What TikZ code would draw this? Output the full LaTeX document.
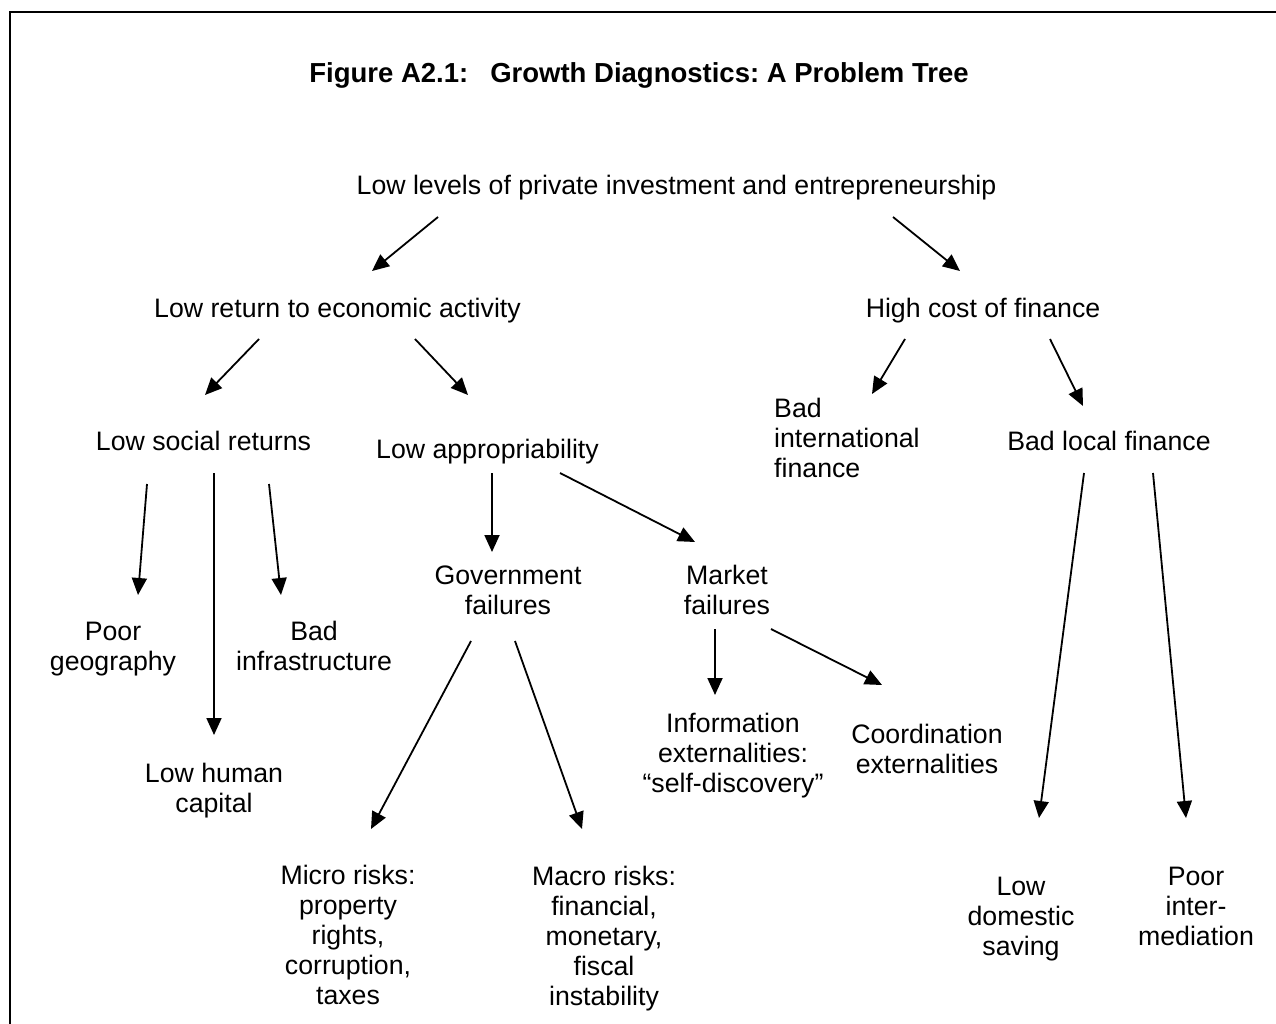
\documentclass[tikz,border=0pt]{standalone}
\usepackage{fontspec}
\setmainfont{Liberation Sans}
\usetikzlibrary{arrows.meta}
\frenchspacing
\begin{document}
\begin{tikzpicture}[x=1pt,y=-1pt,
  lbl/.style={font=\fontsize{26.7}{30}\selectfont, align=center, inner sep=0pt, anchor=base},
  arr/.style={line width=1.8pt, -{Triangle[length=17pt,width=15pt]}}]
\useasboundingbox (0,0) rectangle (1276,1024);
\draw[line width=2.5pt] (10,1026) -- (10,12) -- (1278,12);

\node[lbl, font=\bfseries\fontsize{27.5}{30}\selectfont] (title) at (639,83) {Figure A2.1:\hspace{0.8em}Growth Diagnostics: A Problem Tree};

% single-line nodes: anchored at baseline; multi-line nodes: anchored at baseline of last line
\node[lbl] (top) at (676.5,195) {Low levels of private investment and entrepreneurship};
\node[lbl] (lr) at (337.5,317) {Low return to economic activity};
\node[lbl] (hc) at (983,317) {High cost of finance};
\node[lbl] (ls) at (203.5,450) {Low social returns};
\node[lbl] (la) at (487.5,458) {Low appropriability};
\node[lbl, anchor=base west, align=left] (bif) at (774,477) {Bad\\international\\finance};
\node[lbl] (blf) at (1109,450) {Bad local finance};
\node[lbl] (gf) at (508,614) {Government\\failures};
\node[lbl] (mf) at (727,614) {Market\\failures};
\node[lbl] (pg) at (113,670) {Poor\\geography};
\node[lbl] (bi) at (314,670) {Bad\\infrastructure};
\node[lbl] (lhc) at (214,812) {Low human\\capital};
\node[lbl] (info) at (733,792) {Information\\externalities:\\“self-discovery”};
\node[lbl] (coord) at (927,773) {Coordination\\externalities};
\node[lbl] (micro) at (348,1004) {Micro risks:\\property\\rights,\\corruption,\\taxes};
\node[lbl] (macro) at (604,1005) {Macro risks:\\financial,\\monetary,\\fiscal\\instability};
\node[lbl] (lds) at (1021,955) {Low\\domestic\\saving};
\node[lbl] (pi) at (1196,945) {Poor\\inter-\\mediation};

% connector end points
\coordinate (top-lr-s) at (438,217);   \coordinate (top-lr-e) at (372,271);
\coordinate (top-hc-s) at (893,217);   \coordinate (top-hc-e) at (960,271);
\coordinate (lr-ls-s) at (259,339);    \coordinate (lr-ls-e) at (205,395);
\coordinate (lr-la-s) at (415,339);    \coordinate (lr-la-e) at (468,395);
\coordinate (hc-bif-s) at (905,339);   \coordinate (hc-bif-e) at (872,394);
\coordinate (hc-blf-s) at (1050,339);  \coordinate (hc-blf-e) at (1083,406);
\coordinate (ls-pg-s) at (147,484);    \coordinate (ls-pg-e) at (138,595);
\coordinate (ls-lhc-s) at (214,473);   \coordinate (ls-lhc-e) at (214,735);
\coordinate (ls-bi-s) at (269,484);    \coordinate (ls-bi-e) at (281,595);
\coordinate (la-gf-s) at (492,473);    \coordinate (la-gf-e) at (492,552);
\coordinate (la-mf-s) at (560,473);    \coordinate (la-mf-e) at (695,542);
\coordinate (mf-info-s) at (715,629);  \coordinate (mf-info-e) at (715,695);
\coordinate (mf-coord-s) at (771,629); \coordinate (mf-coord-e) at (882,685);
\coordinate (gf-micro-s) at (471,641); \coordinate (gf-micro-e) at (371,829);
\coordinate (gf-macro-s) at (515,641); \coordinate (gf-macro-e) at (582,829);
\coordinate (blf-lds-s) at (1084,473); \coordinate (blf-lds-e) at (1039,818);
\coordinate (blf-pi-s) at (1153,473);  \coordinate (blf-pi-e) at (1186,818);

\draw[arr] (top-lr-s) -- (top-lr-e);
\draw[arr] (top-hc-s) -- (top-hc-e);
\draw[arr] (lr-ls-s) -- (lr-ls-e);
\draw[arr] (lr-la-s) -- (lr-la-e);
\draw[arr] (hc-bif-s) -- (hc-bif-e);
\draw[arr] (hc-blf-s) -- (hc-blf-e);
\draw[arr] (ls-pg-s) -- (ls-pg-e);
\draw[arr] (ls-lhc-s) -- (ls-lhc-e);
\draw[arr] (ls-bi-s) -- (ls-bi-e);
\draw[arr] (la-gf-s) -- (la-gf-e);
\draw[arr] (la-mf-s) -- (la-mf-e);
\draw[arr] (mf-info-s) -- (mf-info-e);
\draw[arr] (mf-coord-s) -- (mf-coord-e);
\draw[arr] (gf-micro-s) -- (gf-micro-e);
\draw[arr] (gf-macro-s) -- (gf-macro-e);
\draw[arr] (blf-lds-s) -- (blf-lds-e);
\draw[arr] (blf-pi-s) -- (blf-pi-e);
\end{tikzpicture}
\end{document}
